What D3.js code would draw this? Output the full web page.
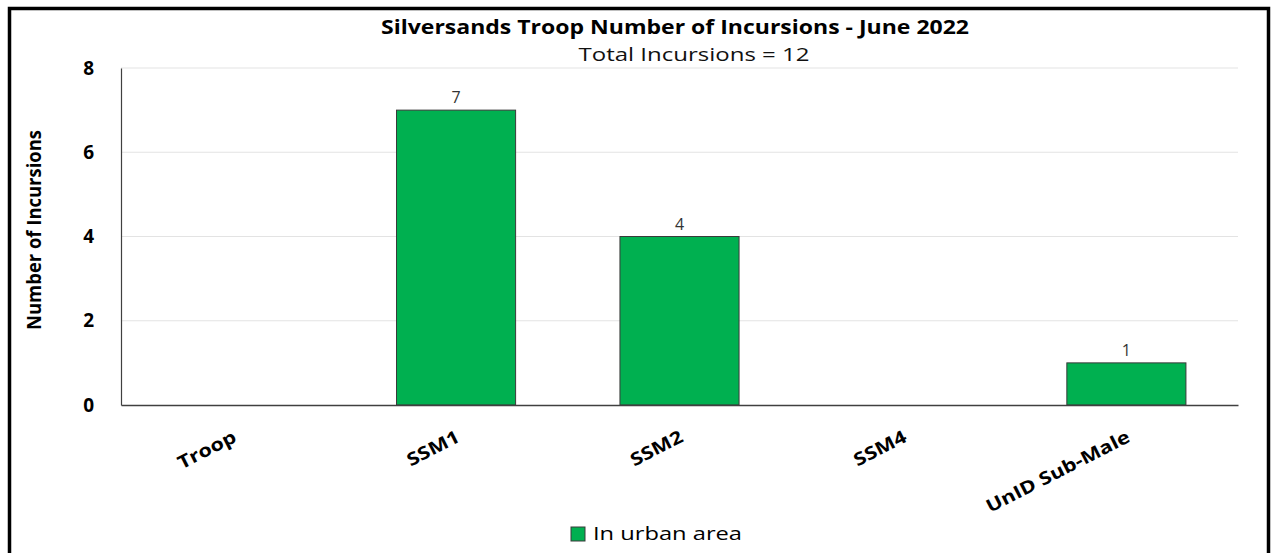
<!DOCTYPE html>
<html>
<head>
<meta charset="utf-8">
<script src="https://cdn.jsdelivr.net/npm/d3@7"></script>
<style>
  body { margin: 0; background: #fff; }
  svg { display: block; }
</style>
</head>
<body>
<div id="chart"></div>
<script>
// chart data
const categories = ["Troop", "SSM1", "SSM2", "SSM4", "UnID Sub-Male"];
const incursions = [0, 7, 4, 0, 1];
const yTicks = [0, 2, 4, 6, 8];
const titleText = "Silversands Troop Number of Incursions - June 2022";
const subtitleText = "Total Incursions =  12";
const seriesName = "In urban area";

const W = 1274, H = 553;
const margin = { top: 68, right: 36, bottom: 148, left: 121 },
    width = W - margin.left - margin.right,
    height = H - margin.top - margin.bottom;

const svgRoot = d3.select("#chart")
    .append("svg")
    .attr("width", W)
    .attr("height", H);

// outer frame
svgRoot.append("rect")
    .attr("x", 9.5).attr("y", 8.5)
    .attr("width", 1259).attr("height", 570)
    .attr("fill", "none")
    .attr("stroke", "#000")
    .attr("stroke-width", 3.5);

// titles
svgRoot.append("text")
    .attr("x", 675).attr("y", 34)
    .attr("text-anchor", "middle")
    .attr("font-family", "Open Sans, sans-serif")
    .attr("font-weight", "bold")
    .attr("font-size", 19)
    .attr("textLength", 588)
    .attr("lengthAdjust", "spacingAndGlyphs")
    .attr("fill", "#000")
    .text(titleText);

svgRoot.append("text")
    .attr("x", 694).attr("y", 61)
    .attr("text-anchor", "middle")
    .attr("font-family", "Open Sans, sans-serif")
    .attr("font-size", 18)
    .attr("textLength", 231)
    .attr("lengthAdjust", "spacingAndGlyphs")
    .attr("fill", "#111")
    .text(subtitleText);

const svg = svgRoot.append("g")
    .attr("transform", "translate(" + margin.left + "," + margin.top + ")");

// X scale
const x = d3.scaleBand()
    .domain(categories)
    .range([0, width])
    .paddingInner(0.467)
    .paddingOuter(0.233);

// Y scale
const y = d3.scaleLinear()
    .domain([0, 8])
    .range([height, 0]);

// gridlines
svg.append("g")
    .selectAll("line")
    .data(yTicks.filter(d => d > 0))
    .enter()
    .append("line")
    .attr("x1", 0).attr("x2", width)
    .attr("y1", d => y(d)).attr("y2", d => y(d))
    .attr("stroke", "#e3e3e3")
    .attr("stroke-width", 1);

const barData = categories.map((c, i) => ({ c: c, v: incursions[i] })).filter(d => d.v > 0);

// bars
svg.append("g")
    .selectAll("rect")
    .data(barData)
    .enter()
    .append("rect")
    .attr("x", d => x(d.c))
    .attr("y", d => y(d.v))
    .attr("width", x.bandwidth())
    .attr("height", d => height - y(d.v))
    .attr("fill", "#00b050")
    .attr("stroke", "#3a3a3a")
    .attr("stroke-width", 1);

// data labels
svg.append("g")
    .selectAll("text")
    .data(barData)
    .enter()
    .append("text")
    .attr("x", d => x(d.c) + x.bandwidth() / 2)
    .attr("y", d => y(d.v) - 7)
    .attr("text-anchor", "middle")
    .attr("font-family", "Open Sans, sans-serif")
    .attr("font-size", 16)
    .attr("fill", "#333")
    .text(d => d.v);

// Y axis
const yAxis = svg.append("g")
    .call(d3.axisLeft(y).tickValues(yTicks).tickSize(0).tickPadding(27));
yAxis.select(".domain").attr("stroke", "#404040").attr("stroke-width", 1.2);
yAxis.selectAll("text")
    .attr("font-family", "Open Sans, sans-serif")
    .attr("font-weight", "bold")
    .attr("font-size", 19)
    .attr("fill", "#000");

// X axis
const xAxis = svg.append("g")
    .attr("transform", "translate(0," + height + ")")
    .call(d3.axisBottom(x).tickSize(0).tickPadding(0));
xAxis.select(".domain").attr("stroke", "#404040").attr("stroke-width", 1.5);
xAxis.selectAll(".tick text")
    .attr("font-family", "Open Sans, sans-serif")
    .attr("font-weight", "bold")
    .attr("font-size", 18)
    .attr("fill", "#000")
    .attr("text-anchor", "end")
    .attr("dy", 0)
    .attr("transform", "translate(5,36) rotate(-27) scale(1.2,1)");

// Y axis title
svgRoot.append("text")
    .attr("transform", "translate(41,230) rotate(-90)")
    .attr("text-anchor", "middle")
    .attr("font-family", "Open Sans, sans-serif")
    .attr("font-weight", "bold")
    .attr("font-size", 19)
    .attr("textLength", 200)
    .attr("lengthAdjust", "spacingAndGlyphs")
    .attr("fill", "#000")
    .text("Number of Incursions");

// legend
const legend = svgRoot.append("g").attr("transform", "translate(571,527)");
legend.append("rect")
    .attr("width", 14).attr("height", 14)
    .attr("fill", "#00b050")
    .attr("stroke", "#3a3a3a")
    .attr("stroke-width", 1);
legend.append("text")
    .attr("x", 22).attr("y", 13)
    .attr("font-family", "Open Sans, sans-serif")
    .attr("font-size", 18)
    .attr("textLength", 149)
    .attr("lengthAdjust", "spacingAndGlyphs")
    .attr("fill", "#000")
    .text(seriesName);
</script>
</body>
</html>
